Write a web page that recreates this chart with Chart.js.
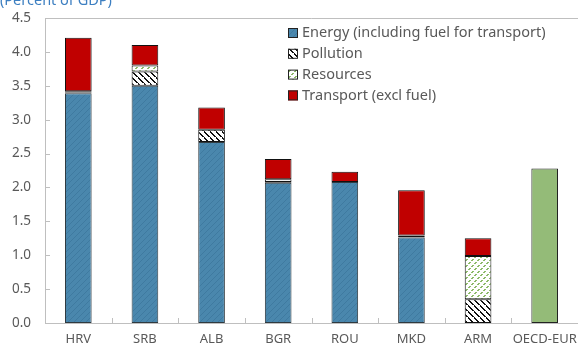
<!DOCTYPE html>
<html>
<head>
<meta charset="utf-8">
<script src="https://cdn.jsdelivr.net/npm/chart.js@4/dist/chart.umd.min.js"></script>
<style>
  html, body { margin: 0; padding: 0; background: #ffffff; }
  #wrap { position: relative; width: 578px; height: 348px; }
</style>
</head>
<body>
<div id="wrap"><canvas id="c" width="578" height="348"></canvas></div>
<script>
// Environmental tax revenue by base, percent of GDP
const categories = ['HRV', 'SRB', 'ALB', 'BGR', 'ROU', 'MKD', 'ARM', 'OECD-EUR'];
const energy     = [3.39, 3.50, 2.67, 2.07, 2.08, 1.26, null, null];
const pollution  = [0.01, 0.21, 0.18, 0.01, null, 0.03, 0.35, null];
const resources  = [0.02, 0.09, null, 0.04, null, null, 0.64, null];
const transport  = [0.79, 0.30, 0.33, 0.30, 0.15, 0.67, 0.26, null];
const oecdTotal  = [null, null, null, null, null, null, null, 2.28];
const yTicks     = [0, 0.5, 1, 1.5, 2, 2.5, 3, 3.5, 4, 4.5];
const seriesNames = ['Energy (including fuel for transport)', 'Pollution', 'Resources', 'Transport (excl fuel)'];

const FONT = '"Noto Sans", "Open Sans", sans-serif';
const TEXT = '#595959';

function makePattern(size, draw) {
  const c = document.createElement('canvas');
  c.width = size; c.height = size;
  const g = c.getContext('2d');
  draw(g, size);
  return g.createPattern(c, 'repeat');
}

// solid steel blue with faint darker diagonals
const energyFill = makePattern(6, (g, s) => {
  g.fillStyle = '#4a87ad'; g.fillRect(0, 0, s, s);
  g.strokeStyle = '#3f7aa0'; g.lineWidth = 1;
  g.beginPath(); g.moveTo(0, s); g.lineTo(s, 0); g.stroke();
});
// white with black "\" hatching
const pollutionFill = makePattern(6, (g, s) => {
  g.fillStyle = '#ffffff'; g.fillRect(0, 0, s, s);
  g.fillStyle = '#111111';
  for (let i = 0; i < s; i++) {
    if (i === 5) continue;
    g.fillRect(i, i, 2, 1);
  }
  g.fillRect(0, s - 1, 1, 1);
});
// white with green dashed "/" hatching
const resourcesFill = makePattern(6, (g, s) => {
  g.fillStyle = '#ffffff'; g.fillRect(0, 0, s, s);
  g.fillStyle = '#8cba68';
  for (let i = 0; i < s; i++) {
    if (i === 2 || i === 5) continue;
    g.fillRect(i, s - 1 - i, 2, 1);
  }
});
const transportFill = '#c00000';
const oecdFill = '#94bb78';

const fills = [energyFill, pollutionFill, resourcesFill, transportFill];

const frame = {
  id: 'frame',
  afterDraw(chart) {
    const { ctx, chartArea: a, scales: { x, y } } = chart;
    ctx.save();
    ctx.strokeStyle = '#bfbfbf';
    ctx.lineWidth = 1;
    ctx.beginPath();
    // top border and axes
    ctx.moveTo(a.left + 0.5, a.top + 0.5); ctx.lineTo(a.right, a.top + 0.5);
    ctx.moveTo(a.left + 0.5, a.top); ctx.lineTo(a.left + 0.5, a.bottom + 0.5);
    ctx.moveTo(a.left, a.bottom + 0.5); ctx.lineTo(a.right, a.bottom + 0.5);
    // inward y ticks
    yTicks.forEach(v => {
      const py = Math.round(y.getPixelForValue(v)) + 0.5;
      ctx.moveTo(a.left, py); ctx.lineTo(a.left + 5, py);
    });
    // inward x ticks between categories
    const step = (a.right - a.left) / categories.length;
    for (let i = 1; i < categories.length; i++) {
      const px = Math.round(a.left + i * step) + 0.5;
      ctx.moveTo(px, a.bottom); ctx.lineTo(px, a.bottom - 5);
    }
    ctx.stroke();

    // unit caption
    ctx.fillStyle = '#3d7fc1';
    ctx.font = '14.5px ' + FONT;
    ctx.textAlign = 'left';
    ctx.textBaseline = 'alphabetic';
    ctx.fillText('(Percent of GDP)', 0, 5);

    // legend
    ctx.font = '14.5px ' + FONT;
    ctx.textBaseline = 'middle';
    const lx = 288, ly0 = 33, dy = 20.8;
    seriesNames.forEach((name, i) => {
      const cy = ly0 + i * dy;
      ctx.fillStyle = fills[i];
      ctx.fillRect(lx, cy - 5, 10, 10);
      ctx.strokeStyle = '#222222';
      ctx.strokeRect(lx + 0.5, cy - 4.5, 9, 9);
      ctx.fillStyle = TEXT;
      ctx.fillText(name, lx + 14, cy);
    });
    ctx.restore();
  }
};

const common = { stack: 's', borderWidth: 1, borderSkipped: false, barPercentage: 0.4, categoryPercentage: 1.0 };

// keep the plot box fixed: no extra room reserved for overhanging tick labels
function noOverhang(s) {
  s.paddingTop = 0; s.paddingBottom = 0; s.paddingLeft = 0; s.paddingRight = 0;
}

new Chart(document.getElementById('c'), {
  type: 'bar',
  data: {
    labels: categories,
    datasets: [
      { label: seriesNames[0], data: energy, backgroundColor: energyFill, borderColor: '#2f3a40', ...common },
      { label: seriesNames[1], data: pollution, backgroundColor: pollutionFill, borderColor: '#111111', ...common },
      { label: seriesNames[2], data: resources, backgroundColor: resourcesFill, borderColor: '#111111', ...common },
      { label: seriesNames[3], data: transport, backgroundColor: transportFill, borderColor: '#111111', ...common },
      { label: 'OECD-EUR', data: oecdTotal, backgroundColor: oecdFill, borderColor: '#222222', ...common }
    ]
  },
  options: {
    responsive: false,
    animation: false,
    devicePixelRatio: 1,
    layout: { autoPadding: false, padding: { top: 18, right: 0, left: 0, bottom: 0 } },
    plugins: { legend: { display: false }, tooltip: { enabled: false } },
    scales: {
      x: {
        stacked: true,
        grid: { display: false, drawTicks: false },
        border: { display: false },
        ticks: { color: TEXT, font: { family: FONT, size: 13 }, padding: 8, maxRotation: 0, autoSkip: false },
        afterFit(s) { s.height = 25; noOverhang(s); }
      },
      y: {
        stacked: true,
        min: 0, max: 4.5,
        grid: { display: false, drawTicks: false },
        border: { display: false },
        afterBuildTicks(s) { s.ticks = yTicks.map(v => ({ value: v })); },
        ticks: {
          color: TEXT, font: { family: FONT, size: 13.5 }, padding: 14,
          callback: v => v.toFixed(1)
        },
        afterFit(s) { s.width = 45; noOverhang(s); }
      }
    }
  },
  plugins: [frame]
});
</script>
</body>
</html>
